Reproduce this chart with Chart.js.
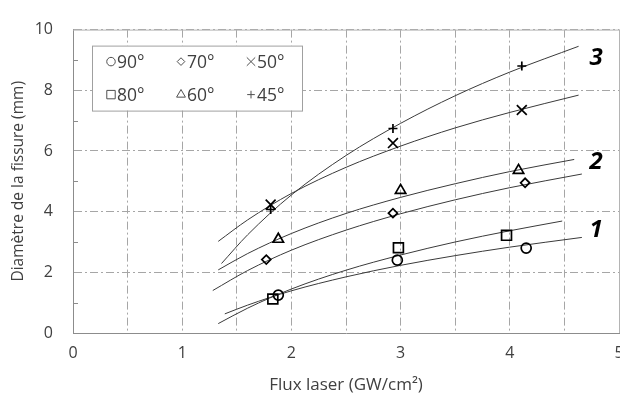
<!DOCTYPE html>
<html>
<head>
<meta charset="utf-8">
<script src="https://cdn.jsdelivr.net/npm/chart.js@4.4.1/dist/chart.umd.min.js"></script>
<style>
  html, body { margin: 0; padding: 0; background: #fff; overflow: hidden; }
  #wrap { width: 640px; height: 397px; }
</style>
</head>
<body>
<div id="wrap"><canvas id="chart" width="640" height="397"></canvas></div>
<script>
// Measured points (flux in GW/cm2, diameter in mm)
const angleLabels = ["90°", "80°", "70°", "60°", "50°", "45°"];
const flux90 = [1.88, 2.97, 4.15];
const diam90 = [1.25, 2.40, 2.80];
const flux80 = [1.83, 2.98, 3.97];
const diam80 = [1.12, 2.81, 3.22];
const flux70 = [1.77, 2.93, 4.14];
const diam70 = [2.42, 3.95, 4.95];
const flux60 = [1.88, 3.00, 4.08];
const diam60 = [3.09, 4.70, 5.36];
const flux50 = [1.81, 2.93, 4.11];
const diam50 = [4.23, 6.26, 7.35];
const flux45 = [1.81, 2.93, 4.11];
const diam45 = [4.07, 6.74, 8.80];

// Trend curves
const trend90X = [1.39, 1.6, 2, 2.5, 3, 3.5, 4, 4.66];
const trend90Y = [0.63, 0.92, 1.39, 1.85, 2.23, 2.55, 2.83, 3.15];
const trend80X = [1.33, 1.6, 2, 2.5, 3, 3.5, 4, 4.48];
const trend80Y = [0.31, 0.82, 1.45, 2.07, 2.57, 3.00, 3.37, 3.69];
const trend70X = [1.28, 1.6, 2, 2.5, 3, 3.5, 4, 4.66];
const trend70Y = [1.40, 2.06, 2.73, 3.39, 3.93, 4.39, 4.79, 5.24];
const trend60X = [1.33, 1.6, 2, 2.5, 3, 3.5, 4, 4.59];
const trend60Y = [2.08, 2.62, 3.28, 3.94, 4.47, 4.92, 5.32, 5.72];
const trend50X = [1.33, 1.6, 2, 2.5, 3, 3.5, 4, 4.63];
const trend50Y = [3.02, 3.73, 4.60, 5.46, 6.16, 6.76, 7.27, 7.84];
const trend45X = [1.36, 1.6, 2, 2.5, 3, 3.5, 4, 4.63];
const trend45Y = [2.29, 3.24, 4.55, 5.85, 6.91, 7.82, 8.60, 9.45];

const groupLabels = ["1", "2", "3"];
const xTitle = "Flux laser (GW/cm²)";
const yTitle = "Diamètre de la fissure (mm)";

const pts = (xs, ys) => xs.map((x, i) => ({ x: x, y: ys[i] }));

const gridColor = "#a6a6a6";
const axisColor = "#8c8c8c";
const textColor = "#404040";
const fontFamily = "'Open Sans', sans-serif";

const markers = [
    { style: "circle", r: 5 },
    { style: "rect", r: 7 },
    { style: "rectRot", r: 4.5 },
    { style: "triangle", r: 6 },
    { style: "crossRot", r: 7 },
    { style: "cross", r: 4.5 },
];
const pointSets = [
    pts(flux90, diam90), pts(flux80, diam80), pts(flux70, diam70),
    pts(flux60, diam60), pts(flux50, diam50), pts(flux45, diam45),
];
const trendSets = [
    pts(trend90X, trend90Y), pts(trend80X, trend80Y), pts(trend70X, trend70Y),
    pts(trend60X, trend60Y), pts(trend50X, trend50Y), pts(trend45X, trend45Y),
];

const datasets = [];
pointSets.forEach((d, i) => {
    datasets.push({
        label: angleLabels[i],
        data: d,
        showLine: false,
        pointStyle: markers[i].style,
        pointRadius: markers[i].r,
        pointBorderWidth: 1.7,
        pointBorderColor: "#000",
        pointBackgroundColor: "rgba(0,0,0,0)",
    });
});
trendSets.forEach((d, i) => {
    datasets.push({
        label: "trend " + angleLabels[i],
        data: d,
        showLine: true,
        borderColor: "#3a3a3a",
        borderWidth: 1,
        pointRadius: 0,
        cubicInterpolationMode: "monotone",
    });
});

// Frame on top/right and small inside ticks on the y axis
const frameAndTicks = {
    id: "frameAndTicks",
    beforeDatasetsDraw(chart) {
        const { ctx, chartArea, scales } = chart;
        ctx.save();
        ctx.strokeStyle = "#b4b4b4";
        ctx.lineWidth = 1;
        ctx.beginPath();
        ctx.moveTo(chartArea.left, chartArea.top + 0.5);
        ctx.lineTo(chartArea.right + 0.5, chartArea.top + 0.5);
        ctx.lineTo(chartArea.right + 0.5, chartArea.bottom);
        ctx.stroke();
        ctx.strokeStyle = axisColor;
        ctx.beginPath();
        for (let v = 1; v < 10; v += 2) {
            const y = Math.round(scales.y.getPixelForValue(v)) + 0.5;
            ctx.moveTo(chartArea.left, y);
            ctx.lineTo(chartArea.left + 5, y);
        }
        ctx.stroke();
        ctx.restore();
    },
};

// Boxed legend in three columns, plus the group numbers
const legendBox = {
    id: "legendBox",
    afterDatasetsDraw(chart) {
        const { ctx, chartArea, scales } = chart;
        const x0 = chartArea.left + 19, y0 = chartArea.top + 16;
        ctx.save();
        ctx.fillStyle = "#fff";
        ctx.fillRect(x0, y0, 210, 65);
        ctx.strokeStyle = "#a0a0a0";
        ctx.lineWidth = 1;
        ctx.strokeRect(x0 + 0.5, y0 + 0.5, 210, 65);
        const order = [0, 2, 4, 1, 3, 5];
        order.forEach((idx, k) => {
            const mx = x0 + 19 + (k % 3) * 70;
            const my = y0 + 16 + Math.floor(k / 3) * 33;
            ctx.strokeStyle = "#505050";
            ctx.fillStyle = "rgba(0,0,0,0)";
            ctx.lineWidth = 1;
            Chart.helpers.drawPoint(ctx, {
                pointStyle: markers[idx].style,
                radius: markers[idx].r * 0.85,
                borderWidth: 1,
                rotation: 0,
            }, mx, my);
            ctx.fillStyle = textColor;
            ctx.font = "17.5px " + fontFamily;
            ctx.textAlign = "left";
            ctx.textBaseline = "middle";
            ctx.fillText(angleLabels[idx], mx + 6, my + 1);
        });
        const labelY = [3.38, 5.62, 9.05];
        ctx.fillStyle = "#000";
        ctx.font = "italic bold 24px " + fontFamily;
        ctx.textAlign = "center";
        groupLabels.forEach((t, i) => {
            ctx.fillText(t, scales.x.getPixelForValue(4.79), scales.y.getPixelForValue(labelY[i]));
        });
        ctx.restore();
    },
};

new Chart(document.getElementById("chart"), {
    type: "scatter",
    data: { datasets: datasets },
    plugins: [frameAndTicks, legendBox],
    options: {
        responsive: false,
        animation: false,
        layout: { padding: { top: 21, right: 21, left: 0, bottom: 0 } },
        plugins: { legend: { display: false }, tooltip: { enabled: false } },
        scales: {
            x: {
                type: "linear",
                min: 0,
                max: 5,
                afterFit: (s) => { s.height = 64; },
                ticks: {
                    stepSize: 0.5,
                    autoSkip: false,
                    maxRotation: 0,
                    padding: 11,
                    color: textColor,
                    font: { family: fontFamily, size: 16 },
                    callback: (v) => (Number.isInteger(v) ? v : ""),
                },
                grid: {
                    drawTicks: false,
                    color: (c) => (c.tick && c.tick.value > 0 ? gridColor : "rgba(0,0,0,0)"),
                },
                border: { color: axisColor, width: 1, dash: [8, 3, 2, 3] },
                title: {
                    display: true,
                    text: xTitle,
                    color: textColor,
                    font: { family: fontFamily, size: 17 },
                    padding: { top: 0, bottom: 2 },
                },
            },
            y: {
                min: 0,
                max: 10,
                afterFit: (s) => { s.width = 73; },
                ticks: {
                    stepSize: 1,
                    padding: 20,
                    color: textColor,
                    font: { family: fontFamily, size: 16 },
                    callback: (v) => (v % 2 === 0 ? v : ""),
                },
                grid: {
                    drawTicks: false,
                    color: (c) => (c.tick && c.tick.value % 2 === 0 && c.tick.value > 0 ? gridColor : "rgba(0,0,0,0)"),
                },
                border: { color: axisColor, width: 1, dash: [8, 3, 2, 3] },
                title: {
                    display: true,
                    text: yTitle,
                    color: textColor,
                    font: { family: fontFamily, size: 15.5 },
                    padding: { top: 9, bottom: 0 },
                },
            },
        },
    },
});
</script>
</body>
</html>
